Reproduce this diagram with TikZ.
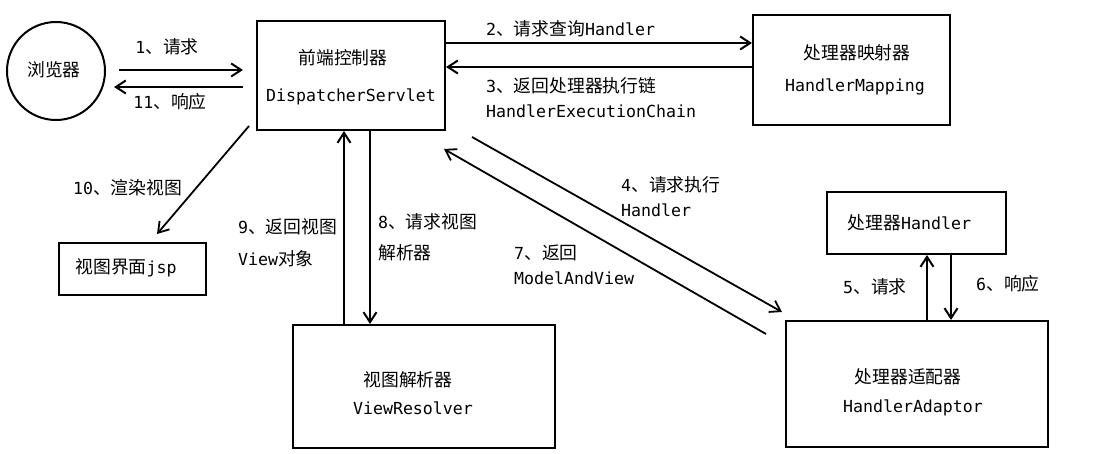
\documentclass[tikz,border=0pt]{standalone}
\usepackage{fontspec}
\setmainfont{DejaVu Sans Mono}
\newfontfamily\zhfont{Noto Sans CJK SC}
\newcommand\zh[1]{{\zhfont\fontsize{17.8}{20}\selectfont #1}}
\usetikzlibrary{arrows.meta}
\begin{document}
\begin{tikzpicture}[x=1pt,y=-1pt,
  every node/.style={font=\fontsize{16.6}{20}\selectfont, inner sep=0pt},
  box/.style={draw, line width=2pt, rectangle, inner sep=0pt},
  arr/.style={line width=2pt, -{Straight Barb[length=10pt,width=13pt]}},
  darr/.style={line width=1.8pt, -{Straight Barb[length=10pt,width=13pt]}},
  lbl/.style={anchor=west}]
\useasboundingbox[fill=white] (0,0) rectangle (1106,454);

% boxes
\node[draw, circle, line width=2pt, minimum size=98pt] (br) at (56,71) {};
\node (brt) at (54,70) {\zh{浏览器}};
\node[box, minimum width=188pt, minimum height=109pt] (ds) at (351,75.5) {};
\node[box, minimum width=197pt, minimum height=110pt] (hm) at (851.5,70) {};
\node[box, minimum width=147pt, minimum height=52pt] (jsp) at (132.5,269) {};
\node[box, minimum width=179pt, minimum height=62pt] (hd) at (916.5,223) {};
\node[box, minimum width=262pt, minimum height=123pt] (vr) at (424,386.5) {};
\node[box, minimum width=262pt, minimum height=126pt] (ha) at (917,384) {};

% box texts
\node (ds1) at (343,58) {\zh{前端控制器}};
\node (ds2) at (351,97) {DispatcherServlet};
\node (hm1) at (857,53) {\zh{处理器映射器}};
\node (hm2) at (855,87) {HandlerMapping};
\node (jspt) at (126,268) {\zh{视图界面}jsp};
\node (hdt) at (909.5,223) {\zh{处理器}Handler};
\node (vr1) at (408,380) {\zh{视图解析器}};
\node (vr2) at (413,408) {ViewResolver};
\node (ha1) at (908,377) {\zh{处理器适配器}};
\node (ha2) at (913,408) {HandlerAdaptor};

% free ends
\coordinate (a1s) at (119,70);
\coordinate (a1e) at (243,70);
\coordinate (a11s) at (243,87);
\coordinate (a11e) at (114,87);
\coordinate (a4s) at (472,137);
\coordinate (a4e) at (782,312);
\coordinate (a7s) at (766,334);
\coordinate (a7e) at (444,149);
\coordinate (a10s) at (249,126);
\coordinate (a10e) at (157,234);

% connectors
\draw[arr] (a1s) -- (a1e);
\draw[arr] (a11s) -- (a11e);
\draw[arr] (ds.east |- 0,43) -- (hm.west |- 0,43);
\draw[arr] (hm.west |- 0,67) -- (ds.east |- 0,67);
\draw[darr] (a4s) -- (a4e);
\draw[darr] (a7s) -- (a7e);
\draw[arr] (ha.north -| 927,0) -- (hd.south -| 927,0);
\draw[arr] (hd.south -| 951,0) -- (ha.north -| 951,0);
\draw[arr] (ds.south -| 370,0) -- (vr.north -| 370,0);
\draw[arr] (vr.north -| 344,0) -- (ds.south -| 344,0);
\draw[darr] (a10s) -- (a10e);

% labels
\node (l1) at (167,47) {1\zh{、请求}};
\node (l11) at (170,102) {11\zh{、响应}};
\node[lbl] (l2) at (486,29) {2\zh{、请求查询}Handler};
\node[lbl] (l3a) at (486,86) {3\zh{、返回处理器执行链}};
\node[lbl] (l3b) at (486,111) {HandlerExecutionChain};
\node[lbl] (l4a) at (621,185) {4\zh{、请求执行}};
\node[lbl] (l4b) at (621,210) {Handler};
\node[lbl] (l7a) at (514,253) {7\zh{、返回}};
\node[lbl] (l7b) at (514,278) {ModelAndView};
\node[lbl] (l8a) at (378,222) {8\zh{、请求视图}};
\node[lbl] (l8b) at (378,253) {\zh{解析器}};
\node[lbl] (l9a) at (238,227) {9\zh{、返回视图}};
\node[lbl] (l9b) at (238,259) {View\zh{对象}};
\node[lbl] (l10) at (73,188) {10\zh{、渲染视图}};
\node[lbl] (l5) at (843,287) {5\zh{、请求}};
\node[lbl] (l6) at (976,284) {6\zh{、响应}};
\end{tikzpicture}
\end{document}
